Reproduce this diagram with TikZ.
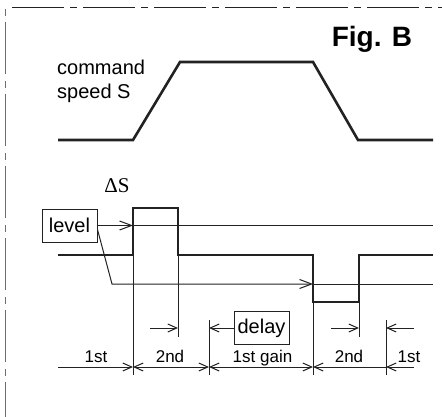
\documentclass[tikz,border=0pt]{standalone}
\usepackage{fontspec}
\setmainfont{Liberation Sans}
\newfontfamily\serifface{Liberation Serif}
\usepackage{tikz}
\usetikzlibrary{arrows.meta,positioning}
\definecolor{inkgray}{HTML}{222222}
\definecolor{framegray}{HTML}{6E6E6E}

\begin{document}
\begin{tikzpicture}[
    x=1pt, y=-1pt,
    txt/.style={font=\fontsize{20}{24}\selectfont, inner sep=0pt, anchor=base west},
    dimtxt/.style={font=\fontsize{17}{20}\selectfont, inner sep=0pt, anchor=base},
    boxed/.style={draw=inkgray, line width=1pt, minimum width=55pt, minimum height=33pt, inner sep=0pt, font=\fontsize{20}{24}\selectfont},
    guide/.style={line width=1pt, draw=inkgray},
    signal/.style={line width=2.6pt, draw=inkgray, line join=miter},
    tip/.style={-{Straight Barb[length=12pt,width=9pt]}},
    dimend/.style={-{Straight Barb[length=9pt,width=8pt]}},
    dimboth/.style={{Straight Barb[length=9pt,width=8pt]}-{Straight Barb[length=9pt,width=8pt]}},
    dimstart/.style={{Straight Barb[length=9pt,width=8pt]}-}
]
\useasboundingbox (0,0) rectangle (442,417);
\draw[line width=1pt, inkgray, dash pattern=on 52pt off 6pt on 7pt off 6pt] (12,8) -- (442,8);
\draw[line width=1.4pt, framegray, dash pattern=on 7pt off 6pt on 52pt off 7pt] (5.5,9) -- (5.5,417);

\node[font=\fontsize{28}{30}\selectfont\bfseries, inner sep=0pt, anchor=base] (fig) at (372,47) {Fig. B};
\node[txt] (cmd) at (57,75) {command};
\node[txt] (spd) at (57,99) {speed S};
\node[font=\serifface\fontsize{21}{24}\selectfont, inner sep=0pt, anchor=base] (ds) at (117,193) {ΔS};
\node[boxed] (level) at (69.5,225.5) {level};
\node[boxed] (delay) at (261.5,328) {delay};

\coordinate (hiA) at (133,225.5);
\coordinate (hiB) at (433,225.5);
\coordinate (loK) at (112,284);
\coordinate (loA) at (313,284);
\coordinate (loB) at (433,284);

\draw[signal] (58,140) -- (133,140) -- (180,62) -- (313,62) -- (358,140) -- (433,140);
\draw[signal] (58,255) -- (133,255) -- (133,208) -- (178,208) -- (178,255) -- (313,255)
    -- (313,302) -- (359,302) -- (359,255) -- (433,255);

\draw[guide, tip] (level.east) -- (hiA);
\draw[guide] (hiA) -- (hiB);
\draw[guide, tip] ([yshift=-4pt]level.east) -- (loK) -- (loA);
\draw[guide] (loA) -- (loB);

\draw[guide] (133,208) -- (133,375);
\draw[guide] (178,208) -- (178,337);
\draw[guide] (313,255) -- (313,375);
\draw[guide] (359,255) -- (359,337);
\draw[guide] (209,320) -- (209,375);
\draw[guide] (386,320) -- (386,375);

\draw[guide, dimend] (150,328) -- (178,328);
\draw[guide, dimend] (delay.west) -- (209,328);
\draw[guide, dimend] (331,328) -- (359,328);
\draw[guide, dimend] (414,328) -- (386,328);

\draw[guide, dimend] (58,367) -- (133,367);
\draw[guide, dimboth] (133,367) -- (209,367);
\draw[guide, dimboth] (209,367) -- (313,367);
\draw[guide, dimstart] (313,367) -- (386,367);
\draw[guide, dimstart] (386,367) -- (414,367);

\node[dimtxt] (d1) at (96,362) {1st};
\node[dimtxt] (d2) at (170,362) {2nd};
\node[dimtxt] (d3) at (262.5,362) {1st gain};
\node[dimtxt] (d4) at (349,362) {2nd};
\node[dimtxt] (d5) at (409,362) {1st};
\end{tikzpicture}
\end{document}
